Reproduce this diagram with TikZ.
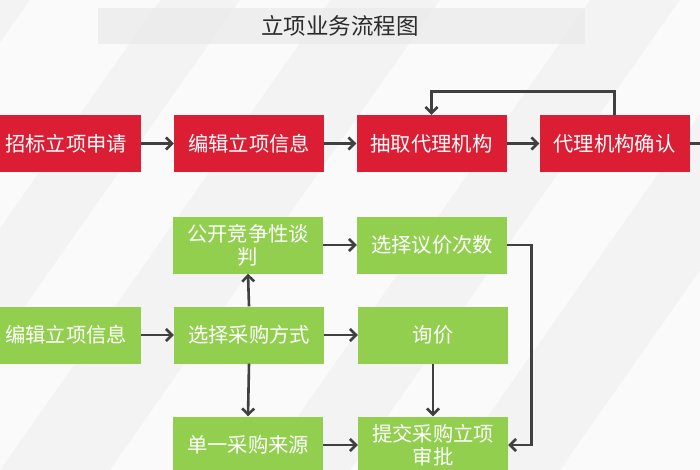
\documentclass[tikz,border=0pt]{standalone}
\usepackage{fontspec}
\setmainfont{Noto Sans CJK SC}
\usetikzlibrary{arrows.meta}
\definecolor{redbox}{HTML}{DC1E35}
\definecolor{greenbox}{HTML}{92CF4F}
\definecolor{arrowc}{HTML}{404040}
\definecolor{bgc}{HTML}{F3F3F3}
\definecolor{bandc}{HTML}{EAEAEA}
\definecolor{titlec}{HTML}{2B2B2B}
\begin{document}
\begin{tikzpicture}[x=1pt,y=-1pt,
  redstep/.style={fill=redbox, text=white, minimum width=150pt, minimum height=57pt, inner sep=0pt, font=\fontsize{20.3}{23}\selectfont, align=center},
  greenstep/.style={redstep, fill=greenbox},
  arr/.style={draw=arrowc, line width=2.6pt, -{Straight Barb[length=6pt,width=12pt]}},
  ln/.style={draw=arrowc, line width=2.6pt}]
\useasboundingbox (0,0) rectangle (700,470);
\clip (0,0) rectangle (700,470);
% background
\fill[bgc] (0,0) rectangle (700,470);
\foreach \a/\w in {-300/130, -90/90, 110/150, 350/100, 560/160, 800/110}{
  \fill[white, opacity=0.6] (\a,470) -- ++(\w,0) -- ++(330,-470) -- ++(-\w,0) -- cycle;
}
% title band
\fill[bandc, opacity=0.75] (98,8) rectangle (585,44);
\node[font=\fontsize{22.5}{26}\selectfont, text=titlec] (title) at (340,26) {立项业务流程图};
% red row
\node[redstep] (r1) at (66,143.5) {招标立项申请};
\node[redstep] (r2) at (249,143.5) {编辑立项信息};
\node[redstep] (r3) at (431.5,143.5) {抽取代理机构};
\node[redstep] (r4) at (614.5,143.5) {代理机构确认};
\coordinate (rout) at (702,143.5);
\draw[arr] (r1) -- (r2);
\draw[arr] (r2) -- (r3);
\draw[arr] (r3) -- (r4);
\draw[ln] (r4.east) -- (rout);
\draw[arr] (r4.north) -- ++(0,-23) -| (r3.north);
% green part
\node[greenstep] (g1) at (66,335) {编辑立项信息};
\node[greenstep] (gs) at (249,335) {选择采购方式};
\node[greenstep] (gp) at (248,245) {公开竞争性谈\\判};
\node[greenstep] (gd) at (248,445) {单一采购来源};
\node[greenstep] (gy) at (432,245) {选择议价次数};
\node[greenstep] (gx) at (433,335) {询价};
\node[greenstep] (gt) at (433,445) {提交采购立项\\审批};
\draw[arr] (g1) -- (gs);
\draw[arr] (gs.north) -- (gp.south);
\draw[arr] (gs.south) -- (gd.north);
\draw[arr] (gp) -- (gy);
\draw[arr] (gs) -- (gx);
\draw[arr] (gd) -- (gt);
\draw[arr] (gx) -- (gt);
\draw[arr] (gy.east) -- ++(24,0) |- (gt.east);
\end{tikzpicture}
\end{document}
